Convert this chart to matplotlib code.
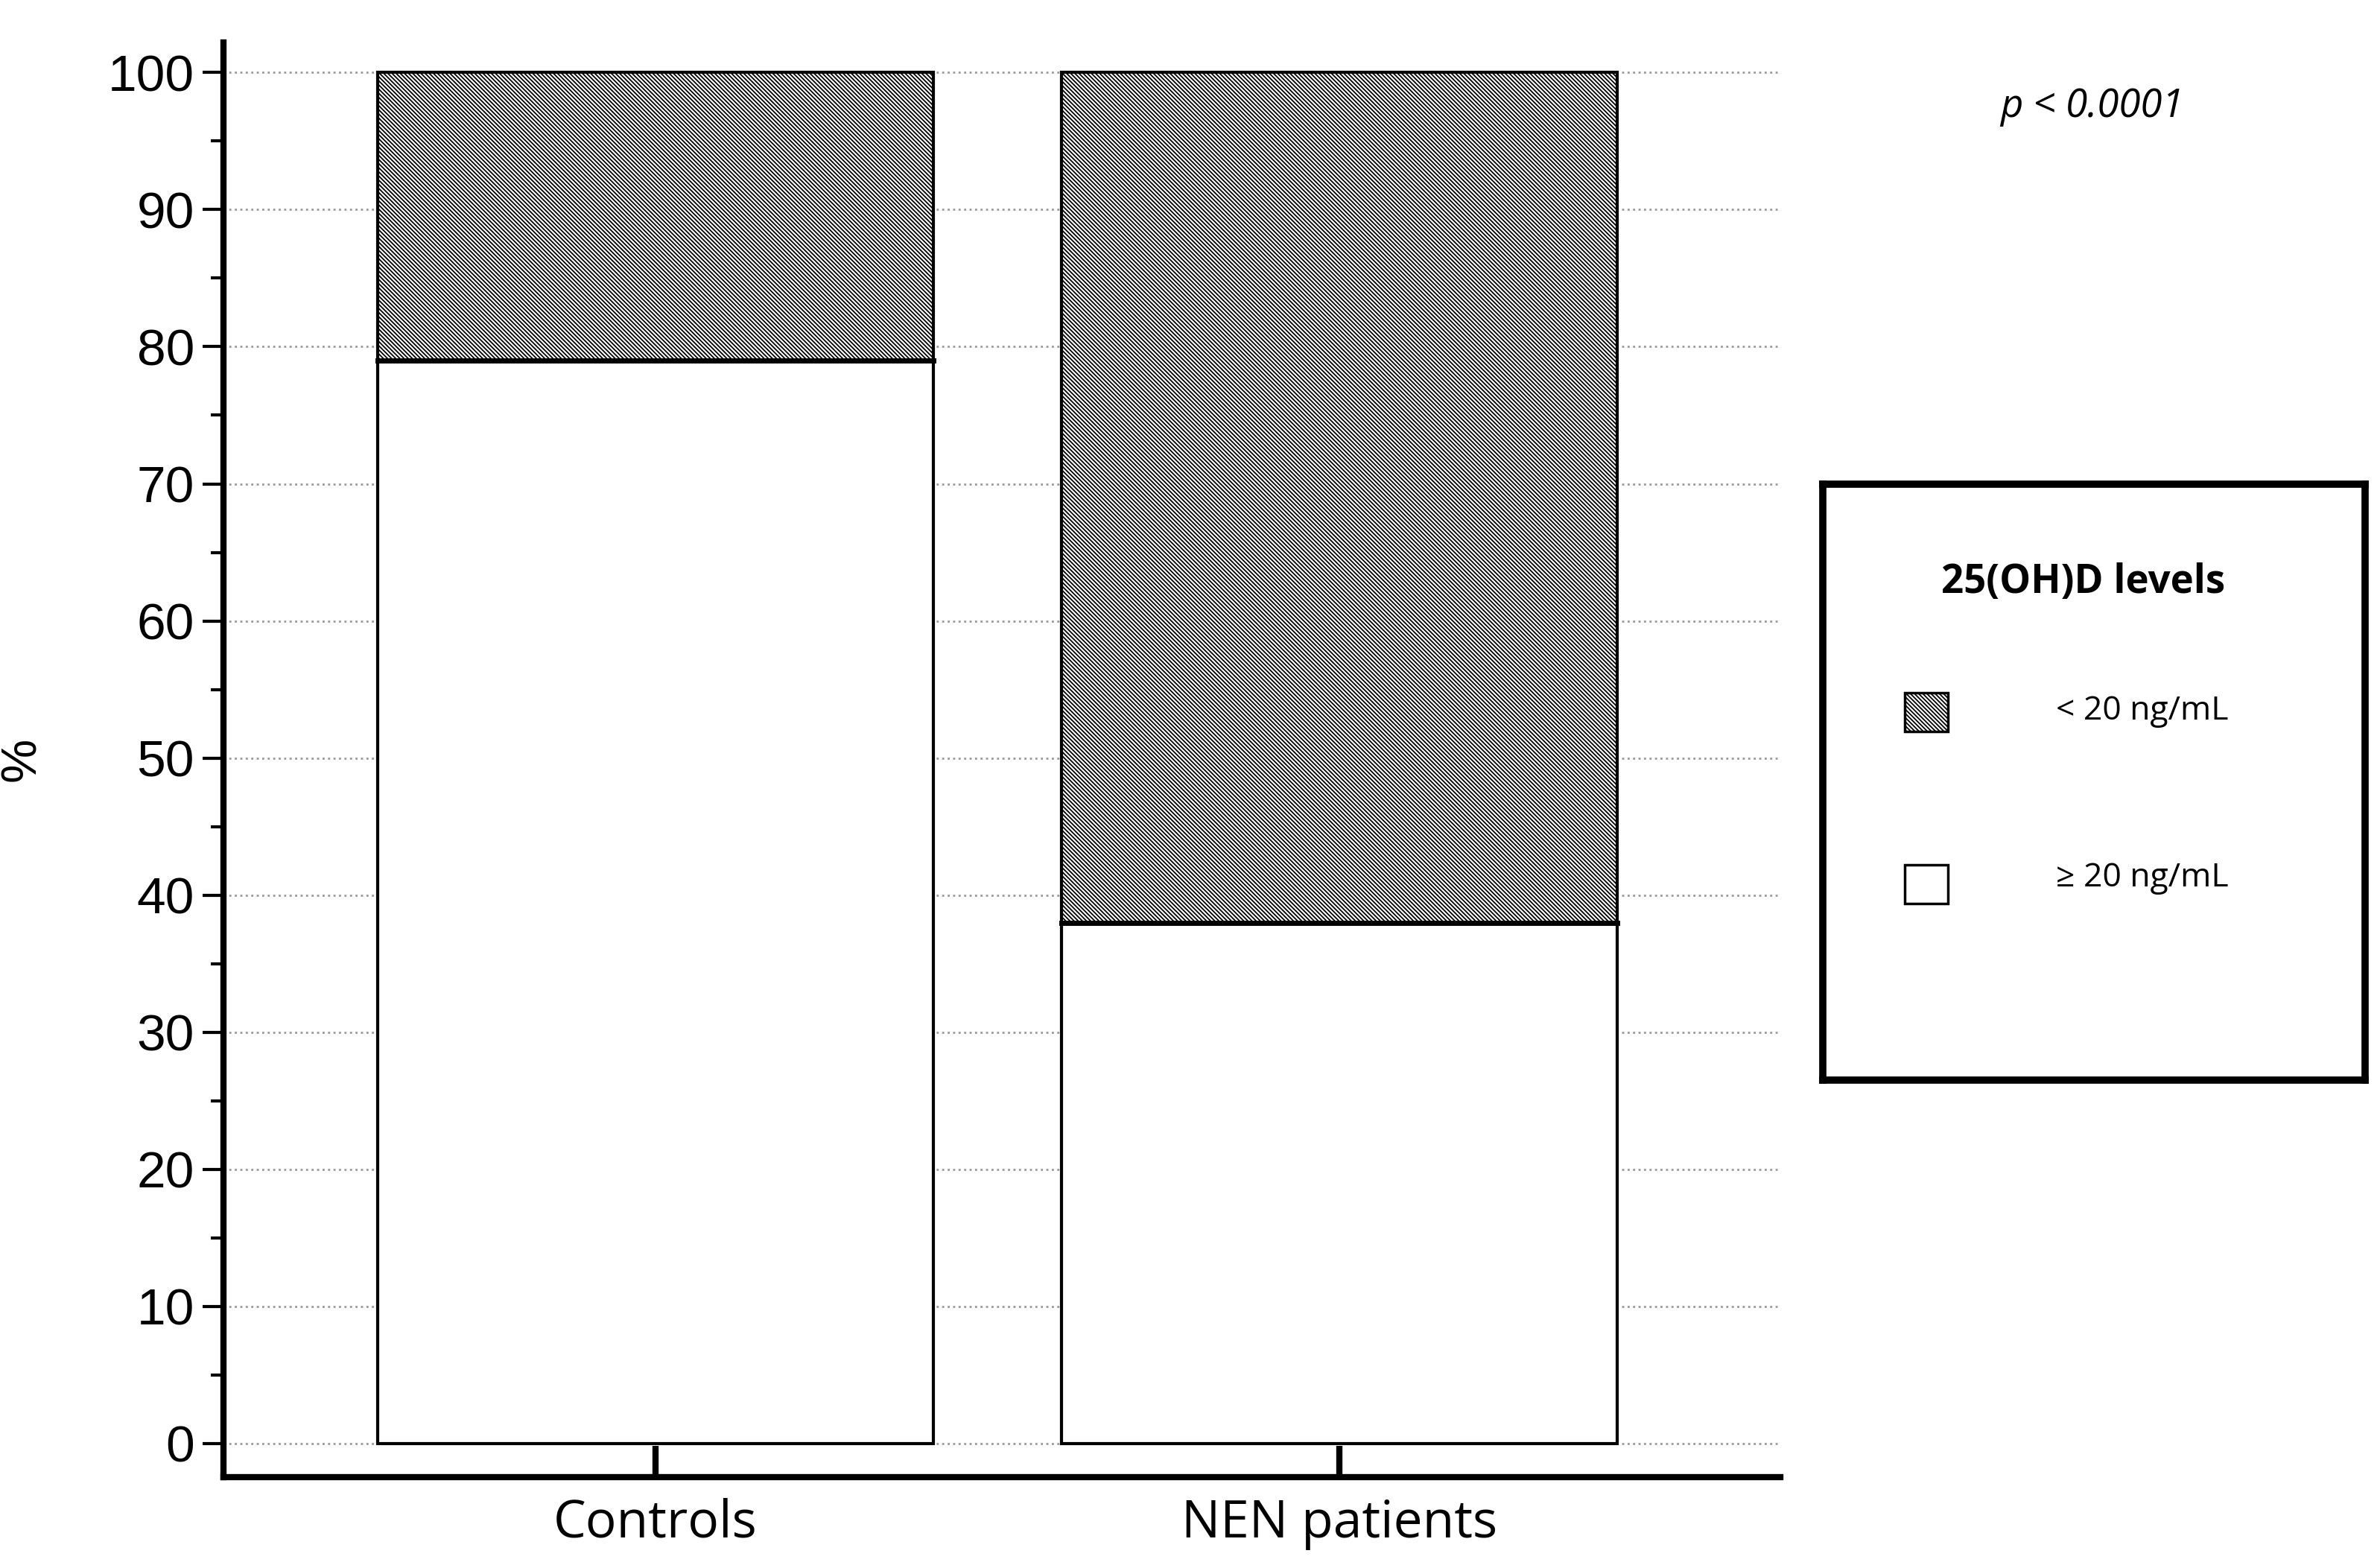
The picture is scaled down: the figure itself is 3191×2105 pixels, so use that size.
import matplotlib
matplotlib.use("Agg")
import matplotlib.pyplot as plt
from matplotlib.patches import Rectangle

categories = ["Controls", "NEN patients"]
above20 = [79, 38]
below20 = [21, 62]
yticks = list(range(0, 101, 10))

plt.rcParams['hatch.linewidth'] = 1.3
plt.rcParams['hatch.color'] = '#9a9a9a'
HATCH = '\\\\\\\\\\\\'

fig = plt.figure(figsize=(31.91, 21.05), dpi=100)
ax = fig.add_axes([0.094, 0.058, 0.655, 0.915])
x = [0, 1]
w = 0.812
for xi, a, b in zip(x, above20, below20):
    ax.bar(xi, a, width=w, color='white', edgecolor='black', linewidth=3, zorder=3)
    ax.bar(xi, b, bottom=a, width=w, color='white', edgecolor='black', linewidth=3,
           hatch=HATCH, zorder=3)
    ax.plot([xi - w/2, xi + w/2], [a, a], color='black', lw=5, zorder=4)

ax.set_xlim(-0.631, 1.644)
ax.set_ylim(-2.44, 102.2)
ax.set_yticks(yticks)
ax.set_yticks(range(5, 100, 10), minor=True)
ax.set_xticks(x)
ax.set_xticklabels(categories, fontsize=50, family='Open Sans')
for lab in ax.get_yticklabels():
    lab.set_fontsize(50); lab.set_family('Liberation Sans')
ax.tick_params(axis='y', which='major', length=20, width=3, direction='out', pad=8)
ax.tick_params(axis='y', which='minor', length=12, width=3, direction='out')
ax.tick_params(axis='x', length=30, width=6, direction='in', pad=20)
for s in ['top', 'right']:
    ax.spines[s].set_visible(False)
for s in ['left', 'bottom']:
    ax.spines[s].set_linewidth(6)
ax.yaxis.grid(True, linestyle=':', color='#999999', linewidth=2, zorder=0)
ax.set_axisbelow(True)
ax.set_ylabel('%', fontsize=48, family='Liberation Sans', labelpad=60)

fig.text(0.88, 0.932, 'p < 0.0001', fontsize=38, style='italic', ha='center', va='center', family='Open Sans')

lax = fig.add_axes([0.767, 0.311, 0.228, 0.38])
lax.set_xlim(0, 1); lax.set_ylim(0, 1)
lax.set_xticks([]); lax.set_yticks([])
for s in lax.spines.values():
    s.set_linewidth(7)
lax.text(0.48, 0.835, '25(OH)D levels', fontsize=38, weight='bold', ha='center', va='center', family='Open Sans')
lax.add_patch(Rectangle((0.15, 0.585), 0.08, 0.065, facecolor='white', edgecolor='black', lw=2.5, hatch=HATCH))
lax.add_patch(Rectangle((0.15, 0.297), 0.08, 0.065, facecolor='white', edgecolor='black', lw=2.5))
lax.text(0.43, 0.62, '< 20 ng/mL', fontsize=32, va='center', family='Open Sans')
lax.text(0.43, 0.34, '≥ 20 ng/mL', fontsize=32, va='center', family='Open Sans')

fig.savefig('out.png', dpi=100)
